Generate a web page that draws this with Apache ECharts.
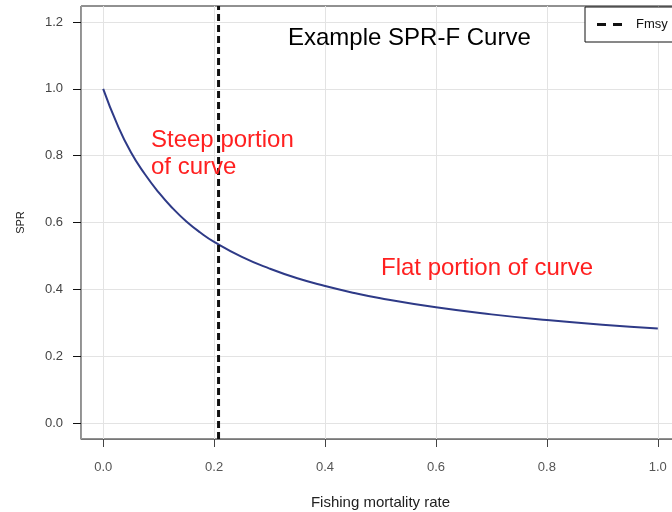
<!DOCTYPE html>
<html><head><meta charset="utf-8">
<script src="https://cdn.jsdelivr.net/npm/echarts@6/dist/echarts.min.js"></script>
<style>html,body{margin:0;padding:0;background:#fff}#c{width:672px;height:512px}</style>
</head><body><div id="c"></div>
<script>
// Fishing mortality (F) and spawning potential ratio (SPR)
const fValues   = [0, 0.025, 0.05, 0.075, 0.1, 0.125, 0.15, 0.175, 0.2, 0.25, 0.3, 0.35, 0.4, 0.45, 0.5, 0.6, 0.7, 0.8, 0.9, 1.0];
const sprValues = [1.0, 0.895, 0.81, 0.745, 0.69, 0.643, 0.603, 0.57, 0.542, 0.497, 0.462, 0.433, 0.41, 0.39, 0.373, 0.346, 0.325, 0.308, 0.294, 0.283];
const fmsyValue = 0.208;
const xTicks = [0, 0.2, 0.4, 0.6, 0.8, 1.0];
const yTicks = [0, 0.2, 0.4, 0.6, 0.8, 1.0, 1.2];
const xRange = [-0.04, 1.04];
const yRange = [-0.048, 1.248];
const titleText = 'Example SPR-F Curve';
const steepText = ['Steep portion', 'of curve'];
const flatText = 'Flat portion of curve';

const FONT = '"Liberation Sans", Arial, sans-serif';
const chart = echarts.init(document.getElementById('c'), null, {renderer: 'canvas'});
const curve = fValues.map((f, i) => [f, sprValues[i]]);
const fmsyLine = [[fmsyValue, yRange[0]], [fmsyValue, yRange[1]]];

chart.setOption({
  animation: false,
  backgroundColor: '#fff',
  grid: {left: 81, top: 6, width: 599, height: 433, outerBoundsMode: 'none', containLabel: false,
         show: true, borderColor: '#222', borderWidth: 1, backgroundColor: 'transparent'},
  xAxis: {
    type: 'value', min: xRange[0], max: xRange[1],
    name: 'Fishing mortality rate', nameLocation: 'middle', nameGap: 56,
    nameTextStyle: {fontFamily: FONT, fontSize: 15, color: '#222'},
    axisLine: {show: true, onZero: false, lineStyle: {color: '#777', width: 1}},
    axisTick: {show: true, inside: false, length: 8, customValues: xTicks, lineStyle: {color: '#444'}},
    axisLabel: {customValues: xTicks, margin: 22, fontFamily: FONT, fontSize: 13, color: '#555', formatter: v => v.toFixed(1)},
    splitLine: {show: true, lineStyle: {color: '#e3e3e3', width: 1}}
  },
  yAxis: {
    type: 'value', min: yRange[0], max: yRange[1],
    name: 'SPR', nameLocation: 'middle', nameGap: 55, nameRotate: 90,
    nameTextStyle: {fontFamily: FONT, fontSize: 11, color: '#222'},
    axisLine: {show: true, onZero: false, lineStyle: {color: '#999', width: 1}},
    axisTick: {show: true, inside: false, length: 8, customValues: yTicks, lineStyle: {color: '#111'}},
    axisLabel: {customValues: yTicks, margin: 18, fontFamily: FONT, fontSize: 13, color: '#444', formatter: v => v.toFixed(1)},
    splitLine: {show: true, lineStyle: {color: '#e3e3e3', width: 1}}
  },
  legend: {
    show: true, data: [{name: 'Fmsy', icon: 'path://M0,0h9v3h-9z M16,0h9v3h-9z'}],
    left: 585, top: 7, orient: 'vertical',
    backgroundColor: '#fff', borderColor: '#111', borderWidth: 1, borderRadius: 0,
    padding: [10, 60, 10, 12], itemWidth: 25, itemHeight: 3,
    itemStyle: {color: '#111'},
    textStyle: {fontFamily: FONT, fontSize: 13, color: '#111', padding: [0, 0, 0, 9], lineHeight: 15},
    z: 10
  },
  series: [
    {
      name: 'SPR', type: 'line', data: curve, smooth: true, symbol: 'none',
      lineStyle: {color: '#2E3A87', width: 2}, itemStyle: {color: '#2E3A87'}, z: 3
    },
    {
      name: 'Fmsy', type: 'line', data: fmsyLine, symbol: 'none',
      lineStyle: {color: '#111', width: 3, type: [7, 4]}, itemStyle: {color: '#111'}, z: 4
    }
  ],
  graphic: [
    {type: 'text', x: 288, y: 38, z: 20, style: {text: titleText, font: '24px ' + FONT, fill: '#000', verticalAlign: 'middle', align: 'left'}},
    {type: 'text', x: 151, y: 140, z: 20, style: {text: steepText[0], font: '24px ' + FONT, fill: '#FF2020', verticalAlign: 'middle', align: 'left'}},
    {type: 'text', x: 151, y: 167, z: 20, style: {text: steepText[1], font: '24px ' + FONT, fill: '#FF2020', verticalAlign: 'middle', align: 'left'}},
    {type: 'text', x: 381, y: 268, z: 20, style: {text: flatText, font: '24px ' + FONT, fill: '#FF2020', verticalAlign: 'middle', align: 'left'}}
  ]
});
</script>
</body></html>
